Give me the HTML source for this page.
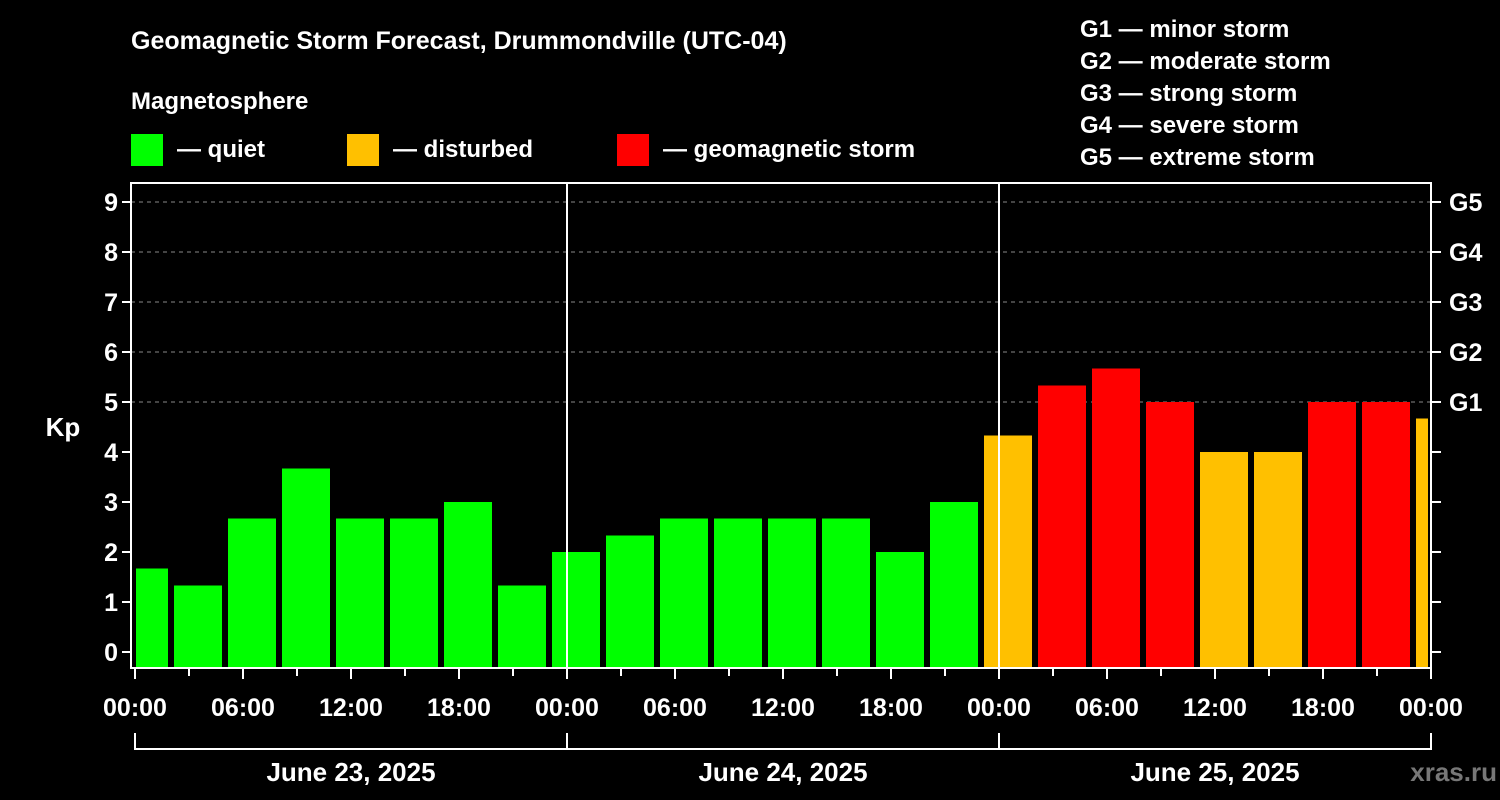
<!DOCTYPE html>
<html><head><meta charset="utf-8"><style>
html,body{margin:0;padding:0;background:#000;width:1500px;height:800px;overflow:hidden}
svg{display:block;font-family:"Liberation Sans",Arial,sans-serif;font-weight:bold}
</style></head><body>
<svg id="chart" width="1500" height="800" xmlns="http://www.w3.org/2000/svg">
<text x="131" y="49" fill="#fff" font-size="25">Geomagnetic Storm Forecast, Drummondville (UTC-04)</text>
<text x="131" y="109" fill="#fff" font-size="24">Magnetosphere</text>
<g><rect x="131" y="134" width="32" height="32" fill="#00ff00"/><text x="177" y="157" fill="#fff" font-size="24">— quiet</text></g>
<g><rect x="347" y="134" width="32" height="32" fill="#ffc000"/><text x="393" y="157" fill="#fff" font-size="24">— disturbed</text></g>
<g><rect x="617" y="134" width="32" height="32" fill="#ff0000"/><text x="663" y="157" fill="#fff" font-size="24">— geomagnetic storm</text></g>
<g fill="#fff" font-size="24">
<text x="1080" y="37">G1 — minor storm</text>
<text x="1080" y="69">G2 — moderate storm</text>
<text x="1080" y="101">G3 — strong storm</text>
<text x="1080" y="133">G4 — severe storm</text>
<text x="1080" y="165">G5 — extreme storm</text>
</g>
<text x="63" y="436" fill="#fff" font-size="26" text-anchor="middle">Kp</text>
<text x="1497" y="781" fill="#777" font-size="26" text-anchor="end">xras.ru</text>
<g id="grid"></g><g id="bars"></g><g id="axes"></g>
</svg>
<script>
const kpValues=[1.67,1.33,2.67,3.67,2.67,2.67,3,1.33,2,2.33,2.67,2.67,2.67,2.67,2,3,4.33,5.33,5.67,5,4,4,5,5,4.67];
const slotStartHours=[-1,2,5,8,11,14,17,20,23,26,29,32,35,38,41,44,47,50,53,56,59,62,65,68,71];
const yTicks=[0,1,2,3,4,5,6,7,8,9];
const gLabels=["G1","G2","G3","G4","G5"];
const gLevels=[5,6,7,8,9];
const xTickLabels=["00:00","06:00","12:00","18:00","00:00","06:00","12:00","18:00","00:00","06:00","12:00","18:00","00:00"];
const dayLabels=["June 23, 2025","June 24, 2025","June 25, 2025"];
const NS="http://www.w3.org/2000/svg";
const L=131,R=1431,T=183,B=668;
const x=h=>135+h*18;
const y=v=>652-v*50;
function mk(tag,attrs,parent,text){const e=document.createElementNS(NS,tag);for(const k in attrs)e.setAttribute(k,attrs[k]);if(text!==undefined)e.textContent=text;document.getElementById(parent).appendChild(e);return e;}
const col=v=>v>=5?"#ff0000":(v>=4?"#ffc000":"#00ff00");
// grid
gLevels.forEach((g,i)=>{
 const ln=mk("line",{x1:L,x2:R,y1:y(g),y2:y(g),stroke:"#888","stroke-dasharray":"4,4","stroke-width":1},"grid");
 
 
});
// bars
kpValues.forEach((v,i)=>{
 let x0=x(slotStartHours[i])+3,x1=x0+48;
 x0=Math.max(x0,L+5);x1=Math.min(x1,R-3);
 const r=mk("rect",{x:x0,y:y(v),width:x1-x0,height:B-y(v),fill:col(v)},"bars");
 
 
});
// day separators
[24,48].forEach(h=>{
 const ln=mk("line",{x1:x(h),x2:x(h),y1:T,y2:B,stroke:"#fff","stroke-width":2},"axes");
 
 
});
// frame
const fr=mk("rect",{x:L,y:T,width:R-L,height:B-T,fill:"none",stroke:"#fff","stroke-width":2},"axes");


yTicks.forEach(v=>{
 mk("line",{x1:L-9,x2:L,y1:y(v),y2:y(v),stroke:"#fff","stroke-width":2},"axes");
 mk("line",{x1:R,x2:R+10,y1:y(v),y2:y(v),stroke:"#fff","stroke-width":2},"axes");
 const t=mk("text",{x:L-13,y:y(v)+9,fill:"#fff","font-size":25,"text-anchor":"end"},"axes",String(v));
 
 
});
gLabels.forEach((g,i)=>{
 const t=mk("text",{x:R+18,y:y(gLevels[i])+9,fill:"#fff","font-size":25},"axes",g);
 
 
});
for(let h=0;h<=72;h+=3){
 const major=h%6===0;
 mk("line",{x1:x(h),x2:x(h),y1:B,y2:B+(major?11:8),stroke:"#fff","stroke-width":2},"axes");
}
xTickLabels.forEach((s,i)=>{
 const t=mk("text",{x:x(i*6),y:716,fill:"#fff","font-size":25,"text-anchor":"middle"},"axes",s);
 
 
});
const br=mk("path",{d:`M${x(0)},733V749H${x(72)}V733`,fill:"none",stroke:"#fff","stroke-width":2},"axes");


[24,48].forEach(h=>mk("line",{x1:x(h),x2:x(h),y1:733,y2:749,stroke:"#fff","stroke-width":2},"axes"));
dayLabels.forEach((s,i)=>{
 const t=mk("text",{x:x(i*24+12),y:781,fill:"#fff","font-size":26,"text-anchor":"middle"},"axes",s);
 
 
});
</script>
</body></html>
